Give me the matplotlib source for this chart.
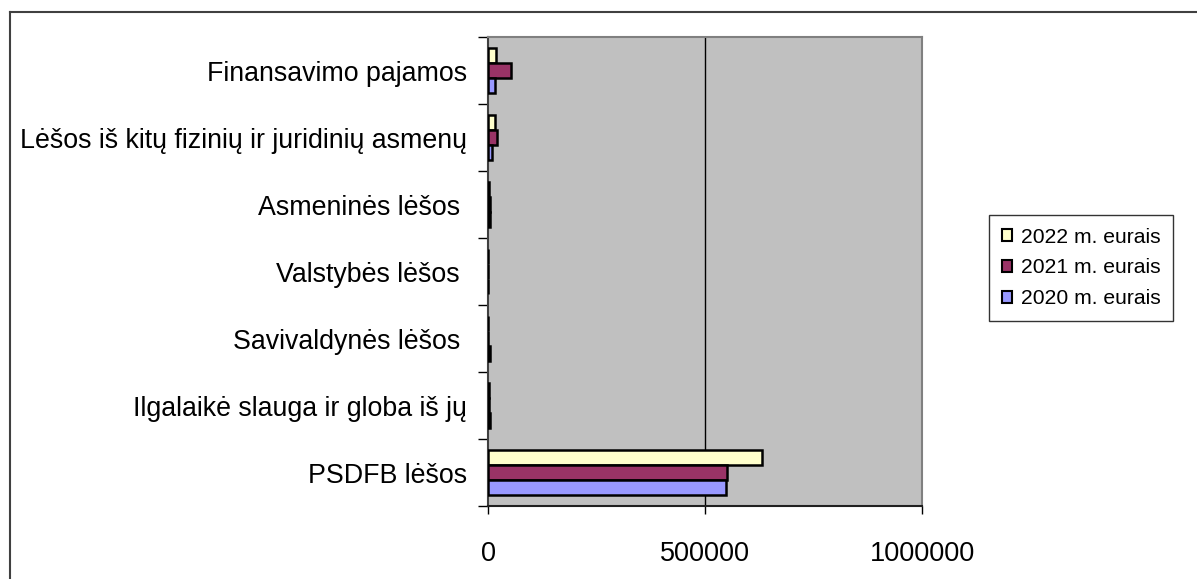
import matplotlib.pyplot as plt
from matplotlib.lines import Line2D
import numpy as np

plt.rcParams['font.family'] = ['Liberation Sans', 'DejaVu Sans']

# kategorijos nuo viršaus į apačią
categories = ['Finansavimo pajamos', 'Lėšos iš kitų fizinių ir juridinių asmenų',
              'Asmeninės lėšos ', 'Valstybės lėšos ', 'Savivaldynės lėšos ',
              'Ilgalaikė slauga ir globa iš jų', 'PSDFB lėšos']
series_names = ['2022 m. eurais', '2021 m. eurais', '2020 m. eurais']
v2022 = [17800, 16800, 3000, 300, 600, 3000, 631000]
v2021 = [53000, 20000, 3500, 300, 800, 3000, 550000]
v2020 = [16000, 10000, 3500, 300, 5000, 3500, 548000]
colors = ['#FFFFCC', '#993366', '#9999FF']
xticks = [0, 500000, 1000000]

fig = plt.figure(figsize=(11.97, 5.79), dpi=100)
ax = fig.add_axes([488/1197, 1-506/579, (922-488)/1197, (506-37)/579])
ax.set_facecolor('#C0C0C0')

y = np.arange(len(categories))
h = 0.22
for vals, off, c, name in zip([v2022, v2021, v2020], [-h, 0, h], colors, series_names):
    ax.barh(y + off, vals, height=h, color=c, edgecolor='black', linewidth=1.8, label=name, zorder=3)

ax.set_ylim(len(categories) - 0.5, -0.5)
ax.set_xlim(0, 1000000)

# tick'ai tarp kategorijų, pavadinimai centre
ax.set_yticks(np.arange(len(categories) + 1) - 0.5)
ax.set_yticklabels([])
ax.set_yticks(y, minor=True)
ax.set_yticklabels(categories, minor=True, fontsize=19.3)
ax.tick_params(axis='y', which='major', length=7, width=1, direction='out')
ax.tick_params(axis='y', which='minor', length=0, pad=15)

ax.set_xticks(xticks)
ax.set_xticklabels([str(t) for t in xticks], fontsize=19.5)
ax.tick_params(axis='x', length=6, width=1, direction='out', pad=19)

ax.axvline(500000, color='black', linewidth=1, zorder=1)

for s in ['top', 'right']:
    ax.spines[s].set_color('#808080')
    ax.spines[s].set_linewidth(1.5)
ax.spines['left'].set_color('#404040')
ax.spines['bottom'].set_color('#202020')
ax.spines['left'].set_linewidth(1.5)
ax.spines['bottom'].set_linewidth(1.5)

leg = fig.legend(loc='upper left', bbox_to_anchor=(989/1197, 1-215/579),
                 fontsize=15.2, frameon=True, fancybox=False, handlelength=0.5,
                 handleheight=0.5, handletextpad=0.4, labelspacing=0.56,
                 borderpad=0.6, borderaxespad=0)
leg.get_frame().set_edgecolor('black')
leg.get_frame().set_linewidth(1)
for p in leg.get_patches():
    p.set_linewidth(1.5)

# rėmelis aplink diagramą
fig.add_artist(Line2D([10/1197, 10/1197], [0, 1-12/579], color='#404040', linewidth=1.5))
fig.add_artist(Line2D([10/1197, 1], [1-12/579, 1-12/579], color='#404040', linewidth=1.5))

fig.savefig('out.png', dpi=100)
